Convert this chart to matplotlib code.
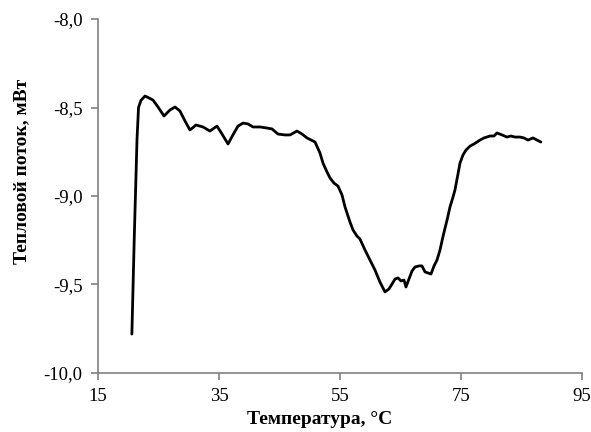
import numpy as np
import matplotlib.pyplot as plt
from matplotlib.ticker import FuncFormatter

# DSC trace: temperature (°C) vs heat flow (mW)
temperature = [20.6, 21.0, 21.45, 21.7, 22.1, 22.77, 23.43, 24.09, 24.92, 25.91,
               26.9, 27.73, 28.55, 29.38, 30.2, 31.2, 32.36, 33.5, 34.67, 35.5,
               36.49, 37.3, 38.14, 38.97, 39.8, 40.62, 41.78, 42.93, 43.76, 44.75,
               45.9, 46.74, 47.89, 48.72, 49.55, 50.87, 51.69, 52.19, 52.85, 53.35,
               54.0, 54.67, 55.33, 55.83, 56.65, 57.15, 57.8, 58.3, 59.13, 59.96,
               60.78, 61.6, 62.44, 63.1, 63.6, 64.1, 64.6, 65.08, 65.58, 65.9,
               66.4, 66.9, 67.4, 68.06, 68.55, 69.05, 69.55, 70.04, 70.54, 71.03,
               71.53, 72.0, 72.69, 73.18, 73.68, 74.0, 74.5, 74.83, 75.33, 75.83,
               76.49, 77.15, 78.14, 78.8, 79.79, 80.45, 80.95, 81.78, 82.6, 83.26,
               83.93, 84.75, 85.41, 86.07, 86.9, 87.56, 88.2]
heat_flow = [-9.78, -9.23, -8.68, -8.50, -8.46, -8.435, -8.446, -8.458, -8.497, -8.548,
             -8.514, -8.497, -8.520, -8.576, -8.627, -8.599, -8.610, -8.633, -8.605, -8.650,
             -8.706, -8.655, -8.605, -8.588, -8.593, -8.610, -8.610, -8.616, -8.621, -8.650,
             -8.655, -8.655, -8.633, -8.650, -8.672, -8.695, -8.757, -8.814, -8.864, -8.898,
             -8.927, -8.944, -8.994, -9.062, -9.147, -9.192, -9.226, -9.243, -9.305, -9.362,
             -9.418, -9.486, -9.542, -9.525, -9.497, -9.469, -9.463, -9.480, -9.475, -9.514,
             -9.469, -9.424, -9.401, -9.395, -9.395, -9.429, -9.435, -9.441, -9.395, -9.362,
             -9.305, -9.232, -9.136, -9.062, -9.006, -8.966, -8.876, -8.814, -8.768, -8.740,
             -8.718, -8.706, -8.684, -8.672, -8.661, -8.661, -8.644, -8.655, -8.667, -8.661,
             -8.667, -8.667, -8.672, -8.684, -8.672, -8.684, -8.695]

x_ticks = [15, 35, 55, 75, 95]
y_ticks = [-10.0, -9.5, -9.0, -8.5, -8.0]

plt.rcParams['font.family'] = ['Liberation Serif', 'DejaVu Serif']

fig = plt.figure(figsize=(5.91, 4.32), dpi=100)
ax = fig.add_axes([0.1658, 0.1366, 0.819, 0.8194])

ax.plot(temperature, heat_flow, color='black', lw=2.0,
        solid_joinstyle='round', solid_capstyle='round')

ax.set_xlim(15, 95)
ax.set_ylim(-10, -8)
ax.set_xticks(x_ticks)
ax.set_yticks(y_ticks)
ax.yaxis.set_major_formatter(FuncFormatter(lambda v, p: f'{v:.1f}'.replace('.', ',')))

for side in ['top', 'right']:
    ax.spines[side].set_visible(False)
for side in ['left', 'bottom']:
    ax.spines[side].set_color('#808080')
    ax.spines[side].set_linewidth(1.2)
ax.tick_params(direction='out', length=5, width=1.2, color='#808080',
               labelsize=13.5, pad=6)

fig.text(0.541, 0.028, 'Температура, °C', ha='center', va='center',
         fontsize=14, fontweight='bold')
fig.text(0.037, 0.602, 'Тепловой поток, мВт', ha='center', va='center',
         rotation=90, fontsize=14, fontweight='bold')

fig.savefig('out.png', dpi=100)
